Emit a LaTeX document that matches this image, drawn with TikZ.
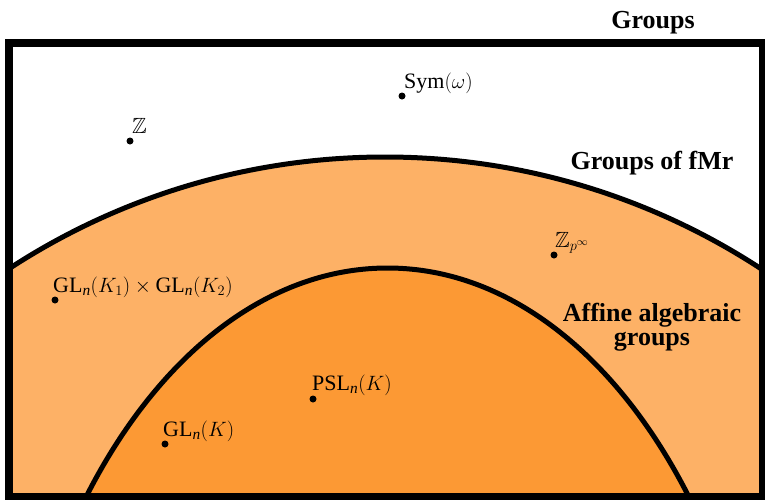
\documentclass[tikz,border=0pt]{standalone}
\usepackage{amsmath,amssymb}
\usepackage{fontspec}
\setmainfont{Liberation Serif}
\definecolor{lightor}{RGB}{253,177,102}
\definecolor{darkor}{RGB}{252,153,52}
\tikzset{
  dot/.style={circle,fill=black,inner sep=0pt,minimum size=7pt},
  lab/.style={anchor=base west,inner sep=0pt,font=\fontsize{22}{25}\selectfont},
  title/.style={align=center,inner sep=0pt,font=\fontsize{26}{24}\selectfont\bfseries},
  curve/.style={line width=5pt},
}
\begin{document}
\begin{tikzpicture}[x=1pt,y=1pt]
\useasboundingbox (0,0) rectangle (765,-499);
\fill[white] (0,0) rectangle (765,-499);
\begin{scope}
  \clip (9,-43) rectangle (763,-497);
  \fill[lightor] (385,-845) circle[radius=688pt];
  \draw[curve] (385,-845) circle[radius=688pt];
  \fill[darkor] (387.5,-878) ellipse[x radius=386pt, y radius=610pt];
  \draw[curve] (387.5,-878) ellipse[x radius=386pt, y radius=610pt];
\end{scope}
\draw[line width=8pt] (9,-43) rectangle (763,-497);

\node[title,anchor=base] (tg) at (653,-28) {Groups};
\node[title,anchor=base] (tf) at (652,-169) {Groups of fMr};
\node[title,anchor=base] (ta) at (652,-345) {Affine algebraic\\groups};

\node[dot] (dsym) at (402,-96) {};
\node[lab] (lsym) at ([xshift=2pt,yshift=8pt]dsym.center) {Sym$(\omega)$};
\node[dot] (dz) at (130,-141) {};
\node[lab] (lz) at ([xshift=2pt,yshift=8pt]dz.center) {$\mathbb{Z}$};
\node[dot] (dzp) at (554,-255) {};
\node[lab] (lzp) at ([xshift=1pt,yshift=8pt]dzp.center) {$\mathbb{Z}_{p^\infty}$};
\node[dot] (dgg) at (55,-300) {};
\node[lab] (lgg) at ([xshift=-2pt,yshift=8pt]dgg.center) {$\textrm{GL}_{\textit{n}}(K_1)\times\textrm{GL}_{\textit{n}}(K_2)$};
\node[dot] (dpsl) at (313,-399) {};
\node[lab] (lpsl) at ([xshift=-1pt,yshift=9pt]dpsl.center) {$\textrm{PSL}_{\textit{n}}(K)$};
\node[dot] (dgl) at (165,-444) {};
\node[lab] (lgl) at ([xshift=-2pt,yshift=8pt]dgl.center) {$\textrm{GL}_{\textit{n}}(K)$};
\end{tikzpicture}
\end{document}
